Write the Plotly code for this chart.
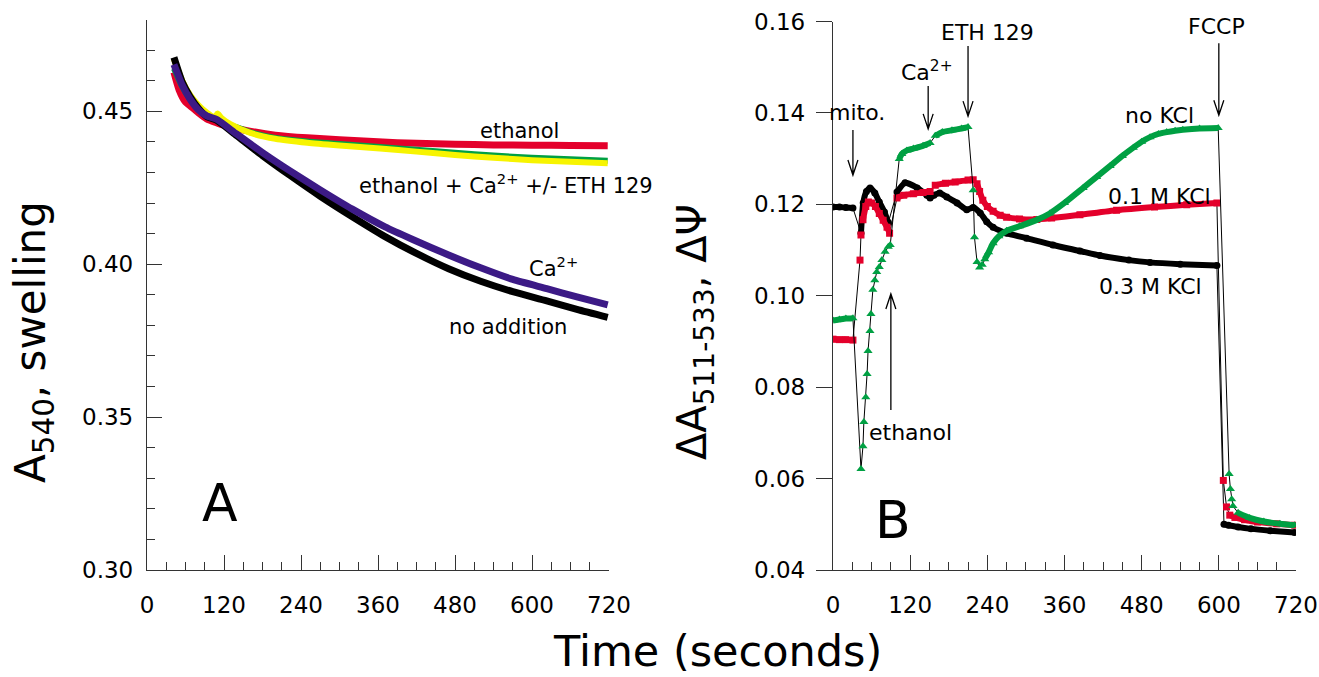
import plotly.graph_objects as go

# ---------------- Panel A data (time s, A540) ----------------
noadd_t = [42, 55, 67, 80, 93, 109, 140, 180, 223, 270, 320, 371, 420, 470, 520, 570, 623, 670, 718]
noadd_v = [0.4676, 0.4595, 0.4548, 0.4510, 0.4483, 0.4470, 0.4420, 0.4355, 0.4290, 0.4222, 0.4155,
           0.4090, 0.4035, 0.3985, 0.3944, 0.3910, 0.3880, 0.3852, 0.3826]
ca_t = [42, 55, 67, 80, 93, 109, 140, 180, 223, 270, 320, 371, 415, 470, 520, 570, 623, 670, 718]
ca_v = [0.4653, 0.4585, 0.4540, 0.4505, 0.4485, 0.4473, 0.4425, 0.4365, 0.4305, 0.4243, 0.4180,
        0.4122, 0.4080, 0.4030, 0.3988, 0.3950, 0.3920, 0.3893, 0.3867]
eth_t = [42, 50, 60, 67, 80, 93, 109, 130, 160, 200, 250, 300, 360, 420, 480, 540, 600, 660, 718]
eth_v = [0.4627, 0.4570, 0.4530, 0.4518, 0.4495, 0.4475, 0.4462, 0.4448, 0.4435, 0.4422, 0.4413,
         0.4407, 0.4400, 0.4395, 0.4392, 0.4390, 0.4389, 0.4388, 0.4387]
ethca_t = [42, 55, 67, 80, 93, 109, 130, 160, 200, 250, 300, 363, 420, 480, 540, 600, 660, 718]
ethca_v = [0.4640, 0.4580, 0.4540, 0.4510, 0.4488, 0.4470, 0.4455, 0.4432, 0.4413, 0.4401, 0.4393,
           0.4383, 0.4374, 0.4364, 0.4355, 0.4348, 0.4343, 0.4338]
ethcaeth_t = [42, 55, 67, 80, 93, 105, 110, 116, 130, 160, 200, 250, 300, 363, 420, 480, 540, 600, 660, 718]
ethcaeth_v = [0.4670, 0.4600, 0.4554, 0.4520, 0.4496, 0.4480, 0.4493, 0.4478, 0.4458, 0.4430, 0.4410,
              0.4397, 0.4388, 0.4378, 0.4368, 0.4357, 0.4348, 0.4340, 0.4335, 0.4330]

# ---------------- Panel B data (time s, dA511-533) ----------------
# seg: >0 = continuous dense stretch (drawn thick), 0 = sparse points
k03_t = [0, 10, 20, 31, 43.5, 47, 52, 57.6, 65, 72, 80, 86, 99.5, 112, 131, 146, 151, 157, 166, 177,
         193, 208, 218, 229, 239, 249, 270, 301, 342, 384, 415, 460, 493, 540, 597,
         608, 615, 630, 650, 680, 718]
k03_v = [0.1194, 0.1194, 0.1193, 0.1192, 0.1137, 0.1203, 0.1228, 0.1236, 0.1225, 0.1205, 0.1183, 0.1160,
         0.1227, 0.1247, 0.1236, 0.1220, 0.1214, 0.1220, 0.1225, 0.1216, 0.1203, 0.1188, 0.1193, 0.1181,
         0.1162, 0.1150, 0.1137, 0.1126, 0.1111, 0.1098, 0.1088, 0.1078, 0.1073, 0.1069, 0.1066,
         0.0500, 0.0498, 0.0494, 0.0490, 0.0486, 0.0482]
k03_seg = [1, 1, 1, 1, 2, 2, 2, 2, 2, 2, 2, 2, 3, 3, 3, 3, 3, 3, 3, 3,
           3, 3, 3, 3, 3, 3, 3, 3, 3, 3, 3, 3, 3, 3, 3,
           4, 4, 4, 4, 4, 4]

k01_t = [0, 10, 20, 31, 42, 43.5, 46.6, 51, 55, 60, 66, 72, 78, 84, 88,
         99.5, 110, 125, 140, 151, 159, 175, 190, 210, 218, 224, 228, 233, 240, 249, 260, 270, 290,
         317, 340, 384, 441, 500, 550, 597,
         607, 612, 617, 625, 640, 660, 690, 718]
k01_v = [0.0905, 0.0904, 0.0904, 0.0903, 0.1078, 0.1133, 0.1166, 0.1195, 0.1205, 0.1203, 0.1195,
         0.1180, 0.1165, 0.1150, 0.1137,
         0.1214, 0.1220, 0.1223, 0.1226, 0.1228, 0.1242, 0.1246, 0.1249, 0.1253, 0.1254, 0.1245,
         0.1228, 0.1209, 0.1195, 0.1185, 0.1176, 0.1172, 0.1168,
         0.1167, 0.1170, 0.1177, 0.1187, 0.1194, 0.1199, 0.1203,
         0.0596, 0.0538, 0.0520, 0.0515, 0.0510, 0.0505, 0.0501, 0.0498]
k01_seg = [1, 1, 1, 1, 0, 0, 2, 2, 2, 2, 2, 2, 2, 2, 2,
           3, 3, 3, 3, 3, 4, 4, 4, 4, 4, 5, 5, 5, 5, 5, 5, 5, 5,
           5, 5, 5, 5, 5, 5, 5,
           0, 0, 6, 6, 6, 6, 6, 6]

k0_t = [0, 10, 20, 31, 43.5, 46.6, 48, 51, 53, 54.5, 57.5, 59, 62, 65, 68, 72, 76, 81, 86, 89,
        103, 107, 115, 125, 140, 151, 159, 170, 185, 200, 210,
        218, 220, 224, 228, 232, 236, 242, 249, 258, 270, 290, 317, 337, 360, 389, 410, 431, 450,
        467, 480, 493, 506, 519, 532, 544, 570, 599,
        616, 618, 620, 622, 630, 648, 670, 695, 718]
k0_v = [0.0946, 0.0948, 0.0950, 0.0951, 0.0621, 0.0671, 0.0724, 0.0778, 0.0829, 0.0879, 0.0923,
        0.0960, 0.1013, 0.1034, 0.1052, 0.1063, 0.1078, 0.1096, 0.1107, 0.1111,
        0.1299, 0.1310, 0.1318, 0.1322, 0.1328, 0.1334, 0.1350, 0.1358, 0.1362, 0.1366, 0.1369,
        0.1231, 0.1128, 0.1074, 0.1062, 0.1068, 0.1080, 0.1095, 0.1115, 0.1130, 0.1142, 0.1152,
        0.1166, 0.1180, 0.1203, 0.1236, 0.1260, 0.1284, 0.1306, 0.1324, 0.1337, 0.1347, 0.1354,
        0.1358, 0.1361, 0.1363, 0.1366, 0.1367,
        0.0610, 0.0577, 0.0555, 0.0540, 0.0525, 0.0514, 0.0506, 0.0501, 0.0498]
k0_seg = [1, 1, 1, 1, 0, 0, 0, 0, 0, 0, 0, 0, 0, 0, 0, 0, 0, 0, 0, 0,
          2, 2, 2, 2, 2, 2, 3, 3, 3, 3, 3,
          0, 0, 0, 0, 0, 4, 4, 4, 4, 4, 4, 4, 4, 4, 4, 4, 4, 4,
          4, 4, 4, 4, 4, 4, 4, 4, 4,
          0, 0, 0, 0, 5, 5, 5, 5, 5]

ticks_x = [0, 120, 240, 360, 480, 600, 720]
ticks_yA = [0.30, 0.35, 0.40, 0.45]
ticks_yB = [0.04, 0.06, 0.08, 0.10, 0.12, 0.14, 0.16]

# ---------------- styling ----------------
FONT = "DejaVu Sans"
W, H = 1319, 677


def px(x):
    return x / W


def py(y):
    return 1 - y / H


RED = "#e4002b"
GREEN = "#00a043"
YELLOW = "#f7f400"
PURPLE = "#3c1a86"
BLACK = "#000000"

fig = go.Figure()

# Panel A traces
for t, v, c, w in [(eth_t, eth_v, RED, 7), (ethca_t, ethca_v, GREEN, 6),
                   (ethcaeth_t, ethcaeth_v, YELLOW, 6), (noadd_t, noadd_v, BLACK, 7),
                   (ca_t, ca_v, PURPLE, 7)]:
    fig.add_trace(go.Scatter(x=t, y=v, mode="lines", line=dict(color=c, width=w, shape="spline", smoothing=0.6),
                             xaxis="x", yaxis="y", showlegend=False, hoverinfo="skip"))


def add_b(t, v, seg, color, symbol, msize):
    fig.add_trace(go.Scatter(x=t, y=v, mode="lines", line=dict(color="black", width=1),
                             xaxis="x2", yaxis="y2", showlegend=False, hoverinfo="skip"))
    xs, ys = [], []
    prev = None
    for ti, vi, si in zip(t, v, seg):
        if si > 0:
            if prev is not None and si != prev:
                xs.append(None)
                ys.append(None)
            xs.append(ti)
            ys.append(vi)
            prev = si
    fig.add_trace(go.Scatter(x=xs, y=ys, mode="lines", connectgaps=False,
                             line=dict(color=color, width=6, shape="spline", smoothing=0.5),
                             xaxis="x2", yaxis="y2", showlegend=False, hoverinfo="skip"))
    fig.add_trace(go.Scatter(x=t, y=v, mode="markers",
                             marker=dict(color=color, symbol=symbol, size=msize, line=dict(width=0)),
                             xaxis="x2", yaxis="y2", showlegend=False, hoverinfo="skip"))


add_b(k03_t, k03_v, k03_seg, BLACK, "circle", 7)
add_b(k01_t, k01_v, k01_seg, RED, "square", 7)
add_b(k0_t, k0_v, k0_seg, GREEN, "triangle-up", 8)

axis_common = dict(showline=True, linecolor="#333", linewidth=1.3, showgrid=False, zeroline=False,
                   automargin=False, tickcolor="#333", ticklabeloverflow="allow",
                   tickfont=dict(family=FONT, size=23, color="black"))

fig.update_layout(
    template="none",
    width=W, height=H, margin=dict(l=0, r=0, t=0, b=0, pad=0, autoexpand=False),
    paper_bgcolor="white", plot_bgcolor="white", showlegend=False,
    font=dict(family=FONT, color="black"),
    xaxis=dict(domain=[px(147), px(609)], range=[0, 720], tickvals=ticks_x, ticks="inside", ticklen=15,
               anchor="y", minor=dict(dtick=30, ticks="inside", ticklen=8, tickcolor="#333"),
               ticklabelstandoff=14, **axis_common),
    yaxis=dict(domain=[py(570), py(19.5)], range=[0.30, 0.48], tickvals=ticks_yA, tickformat=".2f",
               ticks="inside", ticklen=15, anchor="x",
               minor=dict(dtick=0.01, ticks="inside", ticklen=8, tickcolor="#333"),
               ticklabelstandoff=8, **axis_common),
    xaxis2=dict(domain=[px(833), px(1296)], range=[0, 720], tickvals=ticks_x, ticks="inside", ticklen=15,
                anchor="y2", minor=dict(dtick=30, ticks="inside", ticklen=8, tickcolor="#333"),
                ticklabelstandoff=14, **axis_common),
    yaxis2=dict(domain=[py(570), py(21.5)], range=[0.04, 0.16], tickvals=ticks_yB, tickformat=".2f",
                ticks="outside", ticklen=16, anchor="x2", ticklabelstandoff=6, **axis_common),
)

ann = []


def txt(x, y, s, size, xref="x", yref="y", angle=0):
    ann.append(dict(x=x, y=y, xref=xref, yref=yref, text=s, showarrow=False, textangle=angle,
                    font=dict(family=FONT, size=size, color="black"), xanchor="center", yanchor="middle"))


# Panel A labels
txt(581, 0.4437, "ethanol", 21)
txt(559, 0.4262, "ethanol + Ca<sup>2+</sup> +/- ETH 129", 21)
txt(633, 0.3990, "Ca<sup>2+</sup>", 21)
txt(563, 0.3795, "no addition", 21)
txt(114, 0.3219, "A", 52)

# Panel B labels
txt(37, 0.1402, "mito.", 22, "x2", "y2")
txt(146, 0.1492, "Ca<sup>2+</sup>", 22, "x2", "y2")
txt(240, 0.1575, "ETH 129", 22, "x2", "y2")
txt(597, 0.1590, "FCCP", 22, "x2", "y2")
txt(120, 0.0700, "ethanol", 22, "x2", "y2")
txt(508, 0.1395, "no KCl", 22, "x2", "y2")
txt(507, 0.1218, "0.1 M KCl", 22, "x2", "y2")
txt(493, 0.1021, "0.3 M KCl", 22, "x2", "y2")
txt(93, 0.0509, "B", 52, "x2", "y2")

# Axis titles
txt(px(33), py(342), "A<sub>540</sub>, swelling", 42, "paper", "paper", -90)
txt(px(695), py(332), "ΔA<sub>511-533</sub>, ΔΨ", 40, "paper", "paper", -90)
txt(px(717), py(651), "Time (seconds)", 43, "paper", "paper")

fig.update_layout(annotations=ann)

# Arrows (tip position in data coords, length in px, direction -1 = pointing down)
arrow_t = [31, 148, 210, 600, 90]
arrow_v = [0.1264, 0.1365, 0.1393, 0.1395, 0.1004]
arrow_len = [45, 43, 70, 72, 116]
arrow_dir = [-1, -1, -1, -1, 1]
shapes = []
for t, v, L, d in zip(arrow_t, arrow_v, arrow_len, arrow_dir):
    s = -d  # tail side sign in pixel coords (positive = up)
    path = f"M 0,{s*L} L 0,0 M -5,{s*15} L 0,0 L 5,{s*15}"
    shapes.append(dict(type="path", xref="x2", yref="y2", xsizemode="pixel", ysizemode="pixel",
                       xanchor=t, yanchor=v, path=path, line=dict(color="black", width=1.3)))
fig.update_layout(shapes=shapes)

fig.write_html("out.html", config={"displayModeBar": False},
               post_script="document.body.style.margin='0';document.body.style.overflow='hidden';")
